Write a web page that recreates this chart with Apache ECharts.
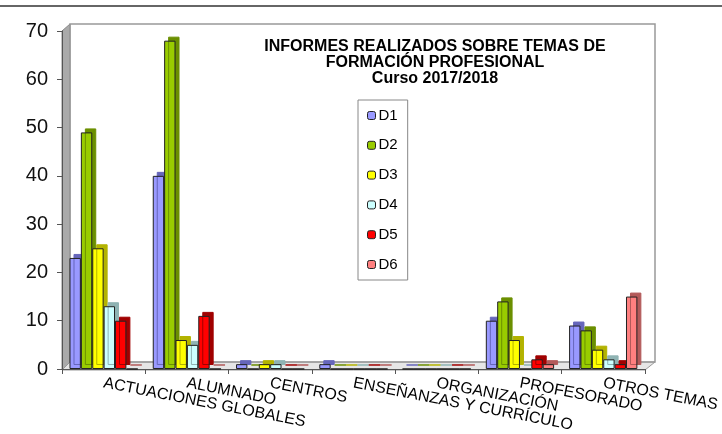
<!DOCTYPE html>
<html>
<head>
<meta charset="utf-8">
<script src="https://cdn.jsdelivr.net/npm/echarts@6/dist/echarts.min.js"></script>
<style>
html, body { margin: 0; padding: 0; background: #fff; }
#chart { width: 722px; height: 434px; }
</style>
</head>
<body>
<div id="chart"></div>
<script>
var categories = ['ACTUACIONES GLOBALES', 'ALUMNADO', 'CENTROS', 'ENSEÑANZAS Y CURRÍCULO', 'ORGANIZACIÓN', 'PROFESORADO', 'OTROS TEMAS'];
var d1 = [23, 40, 1, 1, 0, 10, 9];
var d2 = [49, 68, 0, 0, 0, 14, 8];
var d3 = [25, 6, 1, 0, 0, 6, 4];
var d4 = [13, 5, 1, 0, 0, 0, 2];
var d5 = [10, 11, 0, 0, 0, 2, 1];
var d6 = [0, 0, 0, 0, 0, 1, 15];
var seriesNames = ['D1', 'D2', 'D3', 'D4', 'D5', 'D6'];
var seriesData = [d1, d2, d3, d4, d5, d6];
var colors = ['#9999FF', '#99CC00', '#FFFF00', '#CCFFFF', '#FF0000', '#FF8080'];
var sideColors = ['#6666BB', '#6B8F00', '#B3B300', '#8FB3B3', '#A00000', '#B35A5A'];

var chart = echarts.init(document.getElementById('chart'));

var series = seriesNames.map(function (name, i) {
	return {
		name: name,
		type: 'bar',
		data: seriesData[i],
		barGap: '0%',
		barCategoryGap: '18%',
		itemStyle: {
			color: colors[i],
			borderColor: '#222',
			borderWidth: 1,
			shadowColor: sideColors[i],
			shadowBlur: 0,
			shadowOffsetX: 4,
			shadowOffsetY: -4
		}
	};
});

var option = {
	animation: false,
	textStyle: { fontFamily: 'Liberation Sans, Arial, sans-serif' },
	title: {
		text: 'INFORMES REALIZADOS SOBRE TEMAS DE\nFORMACIÓN PROFESIONAL\nCurso 2017/2018',
		left: 430,
		top: 34,
		textAlign: 'center',
		textStyle: {
			fontSize: 16,
			fontWeight: 'bold',
			color: '#000',
			lineHeight: 16,
			fontFamily: 'Liberation Sans, Arial, sans-serif'
		}
	},
	legend: {
		orient: 'vertical',
		left: 358,
		top: 100,
		padding: [8, 10, 8, 9],
		itemWidth: 8,
		itemHeight: 8,
		itemGap: 14.8,
		borderColor: '#888',
		borderWidth: 1,
		backgroundColor: '#fff',
		data: seriesNames,
		itemStyle: {
			borderColor: '#222',
			borderWidth: 1,
			shadowBlur: 0,
			shadowOffsetX: 0,
			shadowOffsetY: 0,
			shadowColor: 'rgba(0,0,0,0)'
		},
		textStyle: { fontSize: 15, color: '#000', padding: [0, 0, 0, -2] }
	},
	grid: {
		left: 62,
		right: 77,
		top: 31,
		bottom: 64
	},
	xAxis: {
		type: 'category',
		data: categories,
		axisLine: { lineStyle: { color: '#555', width: 1 } },
		axisTick: { show: true, length: 5, lineStyle: { color: '#555' } },
		axisLabel: {
			interval: 0,
			rotate: -11,
			fontSize: 16,
			color: '#000',
			margin: 14
		}
	},
	yAxis: {
		type: 'value',
		min: 0,
		max: 70,
		interval: 10,
		splitLine: { show: false },
		axisLine: { show: true, lineStyle: { color: '#555' } },
		axisTick: { show: true, length: 5, lineStyle: { color: '#555' } },
		axisLabel: { fontSize: 20, color: '#111', margin: 14 }
	},
	graphic: [
		{ type: 'line', shape: { x1: 0, y1: 6, x2: 722, y2: 6 }, style: { stroke: '#666', lineWidth: 2 }, z: -10 },
		{ type: 'polygon', shape: { points: [[62, 31], [70, 24], [70, 362], [62, 370]] }, style: { fill: '#aaa', stroke: '#888' }, z: -10 },
		{ type: 'polygon', shape: { points: [[62, 370], [70, 362], [655, 362], [645, 370]] }, style: { fill: '#e6e6e6', stroke: '#999' }, z: -10 },
		{ type: 'rect', shape: { x: 70, y: 24, width: 585, height: 338 }, style: { fill: 'none', stroke: '#999', lineWidth: 1.5 }, z: -10 }
	],
	series: series
};

chart.setOption(option);
</script>
</body>
</html>
